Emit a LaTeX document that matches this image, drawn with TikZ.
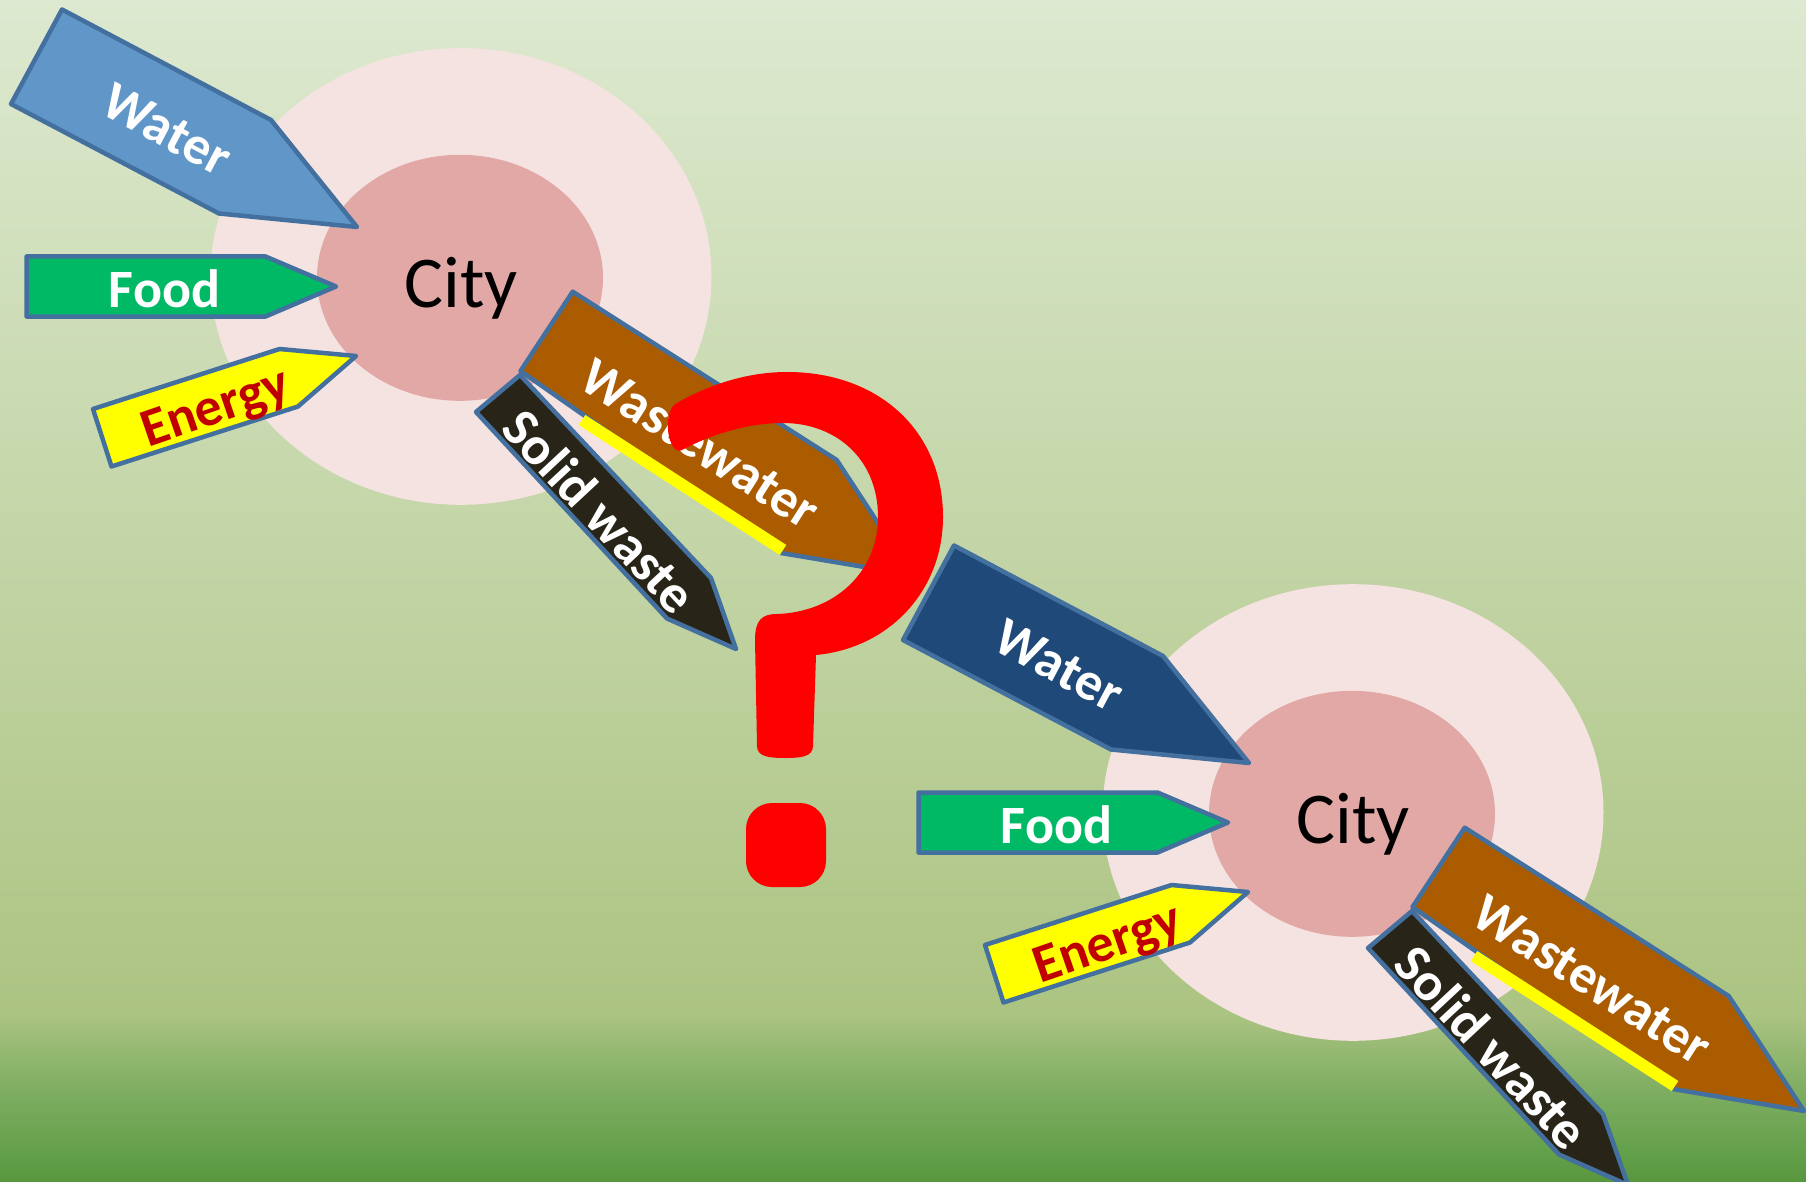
\documentclass[tikz,border=0pt]{standalone}
\usepackage{fontspec}
\setmainfont{Carlito}
\definecolor{bgA}{RGB}{88,150,62}
\definecolor{bgB}{RGB}{100,160,75}
\definecolor{bgC}{RGB}{130,175,100}
\definecolor{bgD}{RGB}{172,196,130}
\definecolor{bgE}{RGB}{193,211,163}
\definecolor{bgF}{RGB}{221,233,208}
\definecolor{outerpink}{RGB}{245,227,225}
\definecolor{innerpink}{RGB}{226,168,166}
\definecolor{edgeblue}{RGB}{67,112,158}
\definecolor{waterlight}{RGB}{97,150,201}
\definecolor{waterdark}{RGB}{31,73,120}
\definecolor{foodgreen}{RGB}{0,185,100}
\definecolor{energyyellow}{RGB}{255,255,0}
\definecolor{energyred}{RGB}{192,0,0}
\definecolor{wwbrown}{RGB}{171,91,0}
\definecolor{swblack}{RGB}{40,37,24}
\definecolor{qred}{RGB}{255,0,0}
\pgfdeclareverticalshading{bgshade}{1806pt}{color(0pt)=(bgA); color(30pt)=(bgB); color(99pt)=(bgC); color(169pt)=(bgD); color(592pt)=(bgE); color(1182pt)=(bgF)}
\newcommand\lblfont{\bfseries\fontsize{54}{62}\selectfont}
\newcommand\cityfont{\fontsize{73}{82}\selectfont}
\newcommand\citygroup[2]{%
  \fill[outerpink] (461,276.5) ellipse [x radius=250.5, y radius=228.3];
  \fill[innerpink] (460,277.8) ellipse [x radius=143, y radius=123];
  \node[citytext] (#2city) at (461,284) {City};
  \filldraw[arrowshape, fill=#1] (62,9.5) -- (271,120) -- (357,227) -- (219,213.5) -- (11,104) -- cycle;
  \filldraw[arrowshape, fill=foodgreen] (26.5,256.5) -- (265.5,256.5) -- (336,286.5) -- (265.5,316.5) -- (26.5,316.5) -- cycle;
  \filldraw[arrowshape, fill=energyyellow] (93,409) -- (279.5,349) -- (356,356) -- (298,406.5) -- (111.5,466.5) -- cycle;
  \filldraw[arrowshape, fill=wwbrown] (572.7,291.7) -- (836.7,460) -- (912,575) -- (781,553) -- (520.5,371) -- cycle;
  \draw[energyyellow, line width=12pt] (582,420) -- (783,550);
  \filldraw[arrowshape, fill=swblack] (520,375) -- (711,578) -- (736,649) -- (667,618.5) -- (476,412) -- cycle;
  \node[lbl, rotate=-28] (#2water) at (167,130) {Water};
  \node[lbl] (#2food) at (164.5,290.5) {Food};
  \node[lbl, text=energyred, rotate=19] (#2energy) at (215,406) {Energy};
  \node[lbl, rotate=-32.5] (#2wastewater) at (700,444) {Wastewater};
  \node[lbl, rotate=-47] (#2solid) at (599,512) {Solid waste};
}
\begin{document}
\begin{tikzpicture}[x=1pt,y=-1pt,
  arrowshape/.style={draw=edgeblue, line width=4.5pt, line join=round},
  lbl/.style={font=\lblfont, text=white, inner sep=0pt, text height=34.5pt, text depth=0pt},
  citytext/.style={font=\cityfont, text=black, inner sep=0pt, text height=46.5pt, text depth=0pt}]
\useasboundingbox (0,0) rectangle (1806,1182);
\clip (0,0) rectangle (1806,1182);
\node[inner sep=0pt, outer sep=0pt, anchor=north west] (bg) at (0,0) {\pgfuseshading{bgshade}};
\citygroup{waterlight}{a}
\begin{scope}[shift={(892,536)}]
\citygroup{waterdark}{b}
\end{scope}
% question mark
\fill[qred] (757,746) -- (755,640) .. controls (755,620) and (762,614) .. (777,614)
  .. controls (835,612) and (878,572) .. (878,517)
  .. controls (878,458) and (835,423) .. (783,423)
  .. controls (748,423) and (712,434) .. (682,450)
  .. controls (668,457) and (661,411) .. (677,403)
  .. controls (712,383) and (750,372) .. (787,372)
  .. controls (880,372) and (943,432) .. (943,517)
  .. controls (943,590) and (890,648) .. (816,655)
  -- (813,746) .. controls (813,757) and (800,758) .. (785,758)
  .. controls (770,758) and (757,757) .. (757,746) -- cycle;
\fill[qred, rounded corners=26pt] (746,803) rectangle (826,887);
\end{tikzpicture}
\end{document}
